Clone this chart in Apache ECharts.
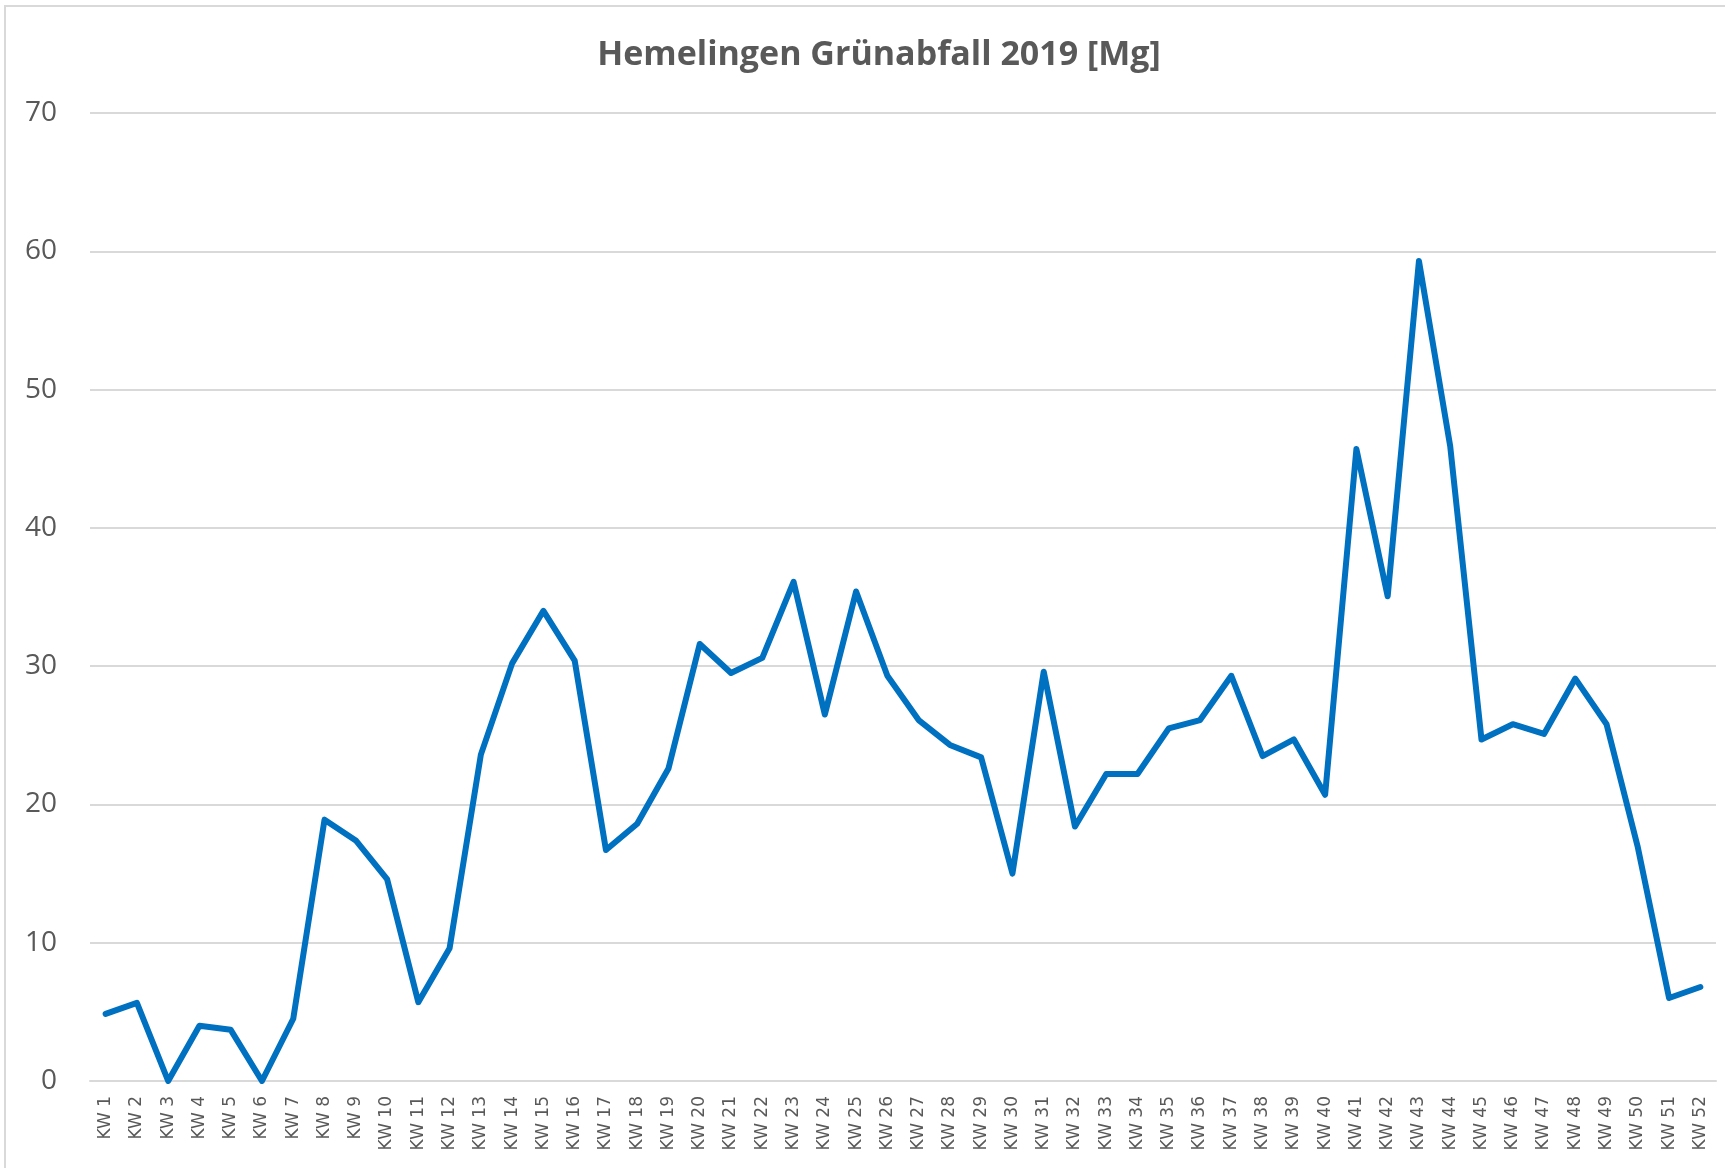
<!DOCTYPE html>
<html>
<head>
<meta charset="utf-8">
<script src="https://cdn.jsdelivr.net/npm/echarts@6/dist/echarts.min.js"></script>
<style>
    html, body { margin: 0; padding: 0; background: #fff; }
    #frame { position: absolute; left: 4px; top: 5px; width: 1730px; height: 1170px;
             border-left: 2px solid #d9d9d9; border-top: 2px solid #d9d9d9; box-sizing: border-box; }
    #chart { position: absolute; left: 0; top: 0; width: 1725px; height: 1168px; }
</style>
</head>
<body>
<div id="frame"></div>
<div id="chart"></div>
<script>
// Kalenderwochen
var weeks = [];
for (var w = 1; w <= 52; w++) {
    weeks.push('KW ' + w);
}

// Grünabfall in Mg je Woche
var gruenabfall = [
    4.85, 5.65, 0, 4.0, 3.7, 0, 4.5, 18.9, 17.4, 14.6,
    5.7, 9.6, 23.6, 30.2, 34.0, 30.4, 16.7, 18.6, 22.6, 31.6,
    29.5, 30.6, 36.1, 26.5, 35.4, 29.3, 26.1, 24.3, 23.4, 15.0,
    29.6, 18.4, 22.2, 22.2, 25.5, 26.1, 29.3, 23.5, 24.7, 20.7,
    45.7, 35.05, 59.3, 45.9, 24.7, 25.8, 25.1, 29.1, 25.8, 16.9,
    6.0, 6.8
];

var yTicks = { min: 0, max: 70, interval: 10 };

(function() {
    var chartInstance = echarts.init(document.getElementById('chart'));
    var option = {
        animation: false,
        title: {
            text: 'Hemelingen Grünabfall 2019 [Mg]',
            left: 874,
            textAlign: 'center',
            top: 33,
            textStyle: {
                color: '#595959',
                fontFamily: 'Open Sans',
                fontWeight: 'bold',
                fontSize: 34
            }
        },
        grid: {
            left: 90,
            right: 9,
            top: 113,
            bottom: 87
        },
        xAxis: {
            type: 'category',
            data: weeks,
            boundaryGap: true,
            axisLine: {
                lineStyle: { color: '#d9d9d9', width: 2 }
            },
            axisTick: { show: false },
            axisLabel: {
                rotate: 90,
                interval: 0,
                margin: 15,
                color: '#595959',
                fontFamily: 'DejaVu Sans',
                fontSize: 17
            }
        },
        yAxis: {
            type: 'value',
            min: yTicks.min,
            max: yTicks.max,
            interval: yTicks.interval,
            axisLine: { show: false },
            axisTick: { show: false },
            axisLabel: {
                margin: 33,
                color: '#595959',
                fontFamily: 'Open Sans',
                fontSize: 28
            },
            splitLine: {
                lineStyle: { color: '#d9d9d9', width: 2 }
            }
        },
        series: [
            {
                name: 'Grünabfall',
                type: 'line',
                data: gruenabfall,
                showSymbol: false,
                symbol: 'none',
                lineStyle: {
                    color: '#0070c0',
                    width: 6,
                    cap: 'round',
                    join: 'round'
                }
            }
        ]
    };
    chartInstance.setOption(option);
})();
</script>
</body>
</html>
